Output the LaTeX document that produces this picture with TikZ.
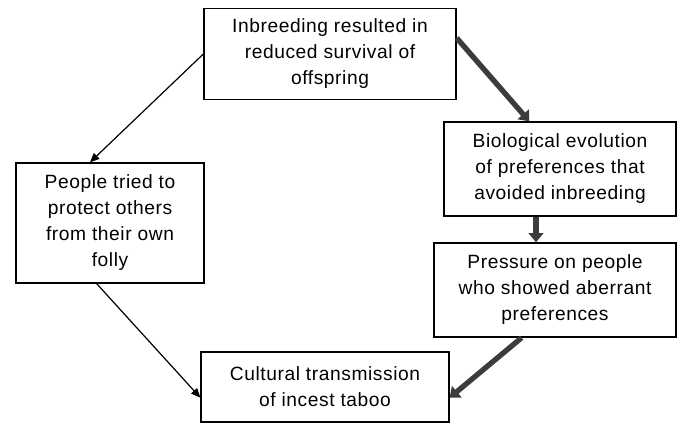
\documentclass[tikz,border=0pt]{standalone}
\usepackage{fontspec}
\setmainfont{Liberation Sans}[LetterSpace=3]
\usepackage{tikz}
\usetikzlibrary{arrows.meta,calc}
\definecolor{inkG}{RGB}{60,60,60}

\begin{document}
\begin{tikzpicture}[x=0.75pt, y=-0.75pt, font=\fontsize{14.4}{19.5}\selectfont,
    >={Triangle[length=7pt, width=6pt]}]
  \useasboundingbox (0,0) rectangle (678,424);
  % boxes
  \tikzstyle{box}=[draw, line width=1pt, align=center, inner sep=0pt]
  \tikzstyle{thin}=[->, line width=0.9pt]
  \tikzstyle{thick}=[-{Triangle[length=7pt, width=11pt]}, line width=4pt, draw=inkG]

  \node[box, minimum width=189pt, minimum height=68pt] (inbr) at (330,54)
       {Inbreeding resulted in\\ reduced survival of\\ offspring};
  \node[box, minimum width=141pt, minimum height=90pt] (protect) at (110,223)
       {People tried to\\ protect others\\ from their own\\ folly};
  \node[box, minimum width=174pt, minimum height=70.5pt] (bio) at (560,169)
       {Biological evolution\\ of preferences that\\ avoided inbreeding};
  \node[box, minimum width=181.5pt, minimum height=70.5pt] (press) at (555,290)
       {Pressure on people\\ who showed aberrant\\ preferences};
  \node[box, minimum width=186pt, minimum height=52.5pt] (cult) at (325,387)
       {Cultural transmission\\ of incest taboo};

  % cultural route
  \draw[thin] (inbr.west) -- ([xshift=-15pt]protect.north);
  \draw[thin] ([xshift=-10pt]protect.south) -- ([yshift=-8pt]cult.west);

  % biological route
  \draw[thick] ([yshift=12pt]inbr.east) -- ([xshift=-23pt]bio.north);
  \draw[thick] ([xshift=-18pt]bio.south) -- ([xshift=-18pt]bio.south |- press.north);
  \draw[thick] ([xshift=-25pt]press.south) -- ([yshift=-8pt]cult.east);
\end{tikzpicture}
\end{document}
